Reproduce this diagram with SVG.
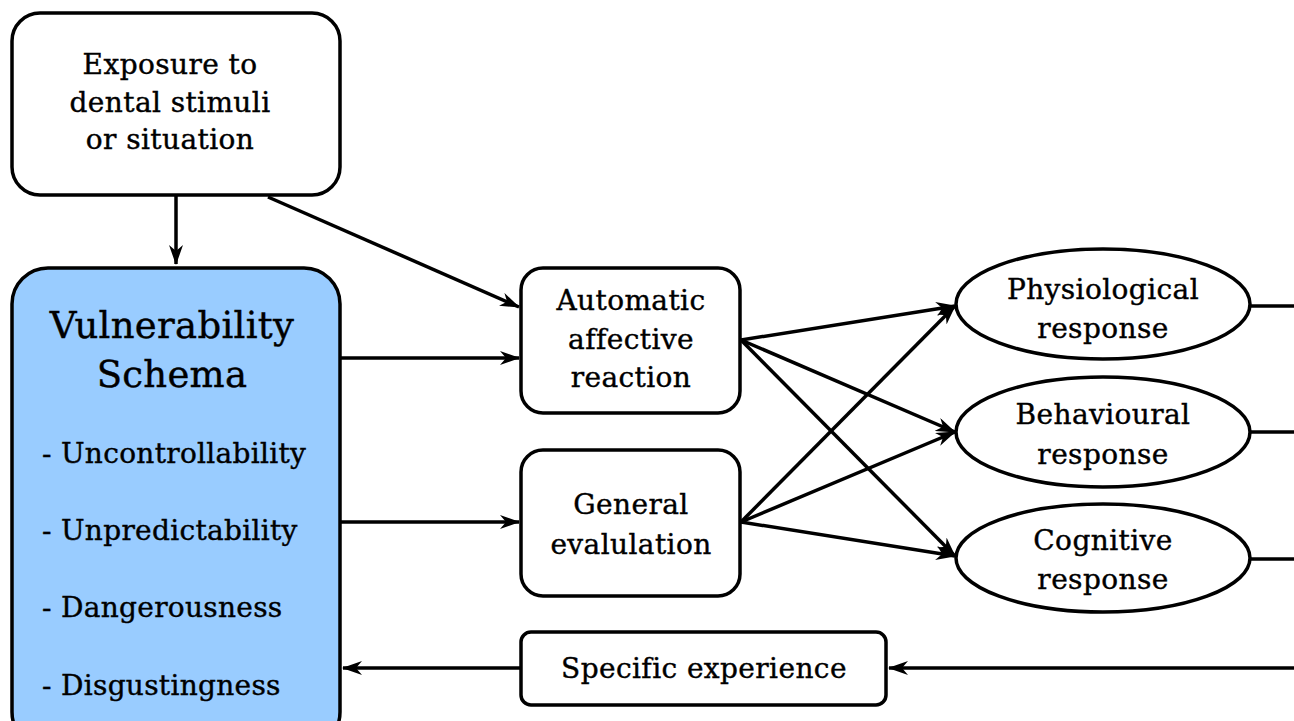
<svg xmlns="http://www.w3.org/2000/svg" width="1294" height="721" viewBox="0 0 1294 721">
<style>
.box{fill:#fff;stroke:#000;stroke-width:3.5}
.vs{fill:#99ccff;stroke:#000;stroke-width:3.5}
.t{font-family:"DejaVu Serif","Liberation Serif",serif;font-size:28px;letter-spacing:0.4px;text-anchor:middle;fill:#000;stroke:#000;stroke-width:0.4}
.tl{font-family:"DejaVu Serif","Liberation Serif",serif;font-size:28px;letter-spacing:0.3px;fill:#000;stroke:#000;stroke-width:0.4}
.big{font-size:37px;letter-spacing:0.3px}
.c{fill:none;stroke:#000;stroke-width:3.5}
</style>
<defs>
<marker id="a" viewBox="0 0 20 14" refX="19" refY="7" markerWidth="20" markerHeight="14" markerUnits="userSpaceOnUse" orient="auto">
<path d="M0,0 L20,7 L0,14 L6,7 z" fill="#000"/>
</marker>
</defs>
<g id="exposure">
<rect class="box" x="12" y="13" width="328" height="182" rx="28"/>
<text class="t" x="170" y="74">Exposure to</text>
<text class="t" x="170" y="112">dental stimuli</text>
<text class="t" x="170" y="149">or situation</text>
</g>
<g id="vulnerability">
<rect class="vs" x="12" y="268" width="328" height="480" rx="36"/>
<text class="t big" x="172" y="338">Vulnerability</text>
<text class="t big" x="172" y="387">Schema</text>
<text class="tl" x="42" y="463">- Uncontrollability</text>
<text class="tl" x="42" y="540">- Unpredictability</text>
<text class="tl" x="42" y="617">- Dangerousness</text>
<text class="tl" x="42" y="695">- Disgustingness</text>
</g>
<g id="automatic">
<rect class="box" x="521" y="268" width="219" height="145" rx="22"/>
<text class="t" x="631" y="310">Automatic</text>
<text class="t" x="631" y="349">affective</text>
<text class="t" x="631" y="387">reaction</text>
</g>
<g id="general">
<rect class="box" x="521" y="450" width="219" height="146" rx="22"/>
<text class="t" x="631" y="514">General</text>
<text class="t" x="631" y="554">evalulation</text>
</g>
<g id="physiological">
<ellipse class="box" cx="1103" cy="304" rx="147" ry="55"/>
<text class="t" x="1103" y="299">Physiological</text>
<text class="t" x="1103" y="338">response</text>
</g>
<g id="behavioural">
<ellipse class="box" cx="1103" cy="432" rx="147" ry="55"/>
<text class="t" x="1103" y="424">Behavioural</text>
<text class="t" x="1103" y="464">response</text>
</g>
<g id="cognitive">
<ellipse class="box" cx="1103" cy="558" rx="147" ry="54"/>
<text class="t" x="1103" y="550">Cognitive</text>
<text class="t" x="1103" y="589">response</text>
</g>
<g id="specific">
<rect class="box" x="521" y="632" width="365" height="73" rx="10"/>
<text class="t" x="704" y="678">Specific experience</text>
</g>
<g id="connectors">
<line class="c" x1="176" y1="195" x2="176" y2="264" marker-end="url(#a)"/>
<line class="c" x1="268" y1="197" x2="519" y2="307" marker-end="url(#a)"/>
<line class="c" x1="340" y1="358" x2="519" y2="358" marker-end="url(#a)"/>
<line class="c" x1="340" y1="522" x2="519" y2="522" marker-end="url(#a)"/>
<line class="c" x1="741" y1="340" x2="955" y2="306" marker-end="url(#a)"/>
<line class="c" x1="741" y1="340" x2="955" y2="432" marker-end="url(#a)"/>
<line class="c" x1="741" y1="340" x2="955" y2="556" marker-end="url(#a)"/>
<line class="c" x1="741" y1="522" x2="955" y2="306" marker-end="url(#a)"/>
<line class="c" x1="741" y1="522" x2="955" y2="432" marker-end="url(#a)"/>
<line class="c" x1="741" y1="522" x2="955" y2="556" marker-end="url(#a)"/>
<line class="c" x1="1250" y1="306" x2="1294" y2="306"/>
<line class="c" x1="1250" y1="432" x2="1294" y2="432"/>
<line class="c" x1="1250" y1="559" x2="1294" y2="559"/>
<line class="c" x1="1294" y1="668" x2="889" y2="668" marker-end="url(#a)"/>
<line class="c" x1="521" y1="668" x2="343" y2="668" marker-end="url(#a)"/>
</g>
</svg>
